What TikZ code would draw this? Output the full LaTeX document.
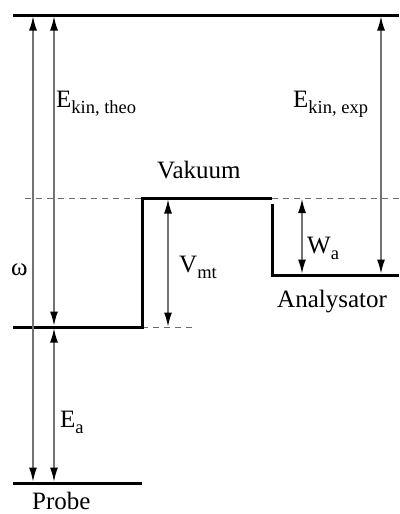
\documentclass[tikz,border=0pt]{standalone}
\usepackage{fontspec}
\setmainfont{Liberation Serif}
\usetikzlibrary{arrows.meta}
\newcommand{\mainsz}{\fontsize{25}{29}\selectfont}
\newcommand{\subsz}{\fontsize{18.5}{21}\selectfont}
\newcommand{\symsub}[2]{#1\raisebox{-6pt}{\subsz #2}}
\begin{document}
\begin{tikzpicture}[x=1pt,y=-1pt,
  level/.style={line width=3pt, line join=miter},
  guide/.style={dash pattern=on 6pt off 5pt, line width=0.8pt, draw=gray!85!black},
  dim/.style={draw=gray!90!black, line width=1.3pt,
    {Latex[length=14pt,width=8pt,black]}-{Latex[length=14pt,width=8pt,black]}},
  lab/.style={inner sep=0pt, anchor=base west, font=\mainsz}]
\useasboundingbox (0,0) rectangle (399,514);

% level coordinates
\coordinate (topL) at (13,15);
\coordinate (topR) at (399,15);
\coordinate (fermiL) at (13,327);
\coordinate (fermiR) at (142,327);
\coordinate (vacL) at (142,198);
\coordinate (vacR) at (272,198);
\coordinate (anaT) at (272,204);
\coordinate (anaC) at (272,275);
\coordinate (anaR) at (399,275);
\coordinate (probeL) at (13,483);
\coordinate (probeR) at (142,483);
\coordinate (dashL) at (25,198);
\coordinate (dashR) at (399,198);
\coordinate (dashM) at (193,327);

% dashed guides
\draw[guide] (dashL) -- (vacL);
\draw[guide] (vacR) -- (dashR);
\draw[guide] (fermiR) -- (dashM);

% levels
\draw[level] (topL) -- (topR);
\draw[level] (fermiL) -- (fermiR) -- (vacL) -- (vacR);
\draw[level] (anaT) -- (anaC) -- (anaR);
\draw[level] (probeL) -- (probeR);

% arrow end points
\coordinate (wT) at (33,16.5);
\coordinate (wB) at (33,481.5);
\coordinate (thT) at (54,16.5);
\coordinate (thB) at (54,325.5);
\coordinate (eaT) at (54,328.5);
\coordinate (eaB) at (54,481.5);
\coordinate (vT) at (168,199.5);
\coordinate (vB) at (168,326.5);
\coordinate (waT) at (302,199);
\coordinate (waB) at (302,273.5);
\coordinate (exT) at (381,16.5);
\coordinate (exB) at (381,273.5);

\draw[dim] (wT) -- (wB);
\draw[dim] (thT) -- (thB);
\draw[dim] (eaT) -- (eaB);
\draw[dim] (vT) -- (vB);
\draw[dim] (waT) -- (waB);
\draw[dim] (exT) -- (exB);

% labels
\node[lab] (ltheo) at (56,107) {\symsub{E}{kin, theo}};
\node[lab] (lexp) at (293,107) {\symsub{E}{kin, exp}};
\node[lab] (lvak) at (157,178) {Vakuum};
\node[lab] (lvmt) at (179,272) {\symsub{V}{mt}};
\node[lab] (lwa) at (307,253) {\symsub{W}{a}};
\node[lab] (lw) at (11,275) {ω};
\node[lab] (lea) at (60,427) {\symsub{E}{a}};
\node[lab] (lana) at (277,307) {Analysator};
\node[lab] (lprobe) at (32,509) {Probe};
\end{tikzpicture}
\end{document}
